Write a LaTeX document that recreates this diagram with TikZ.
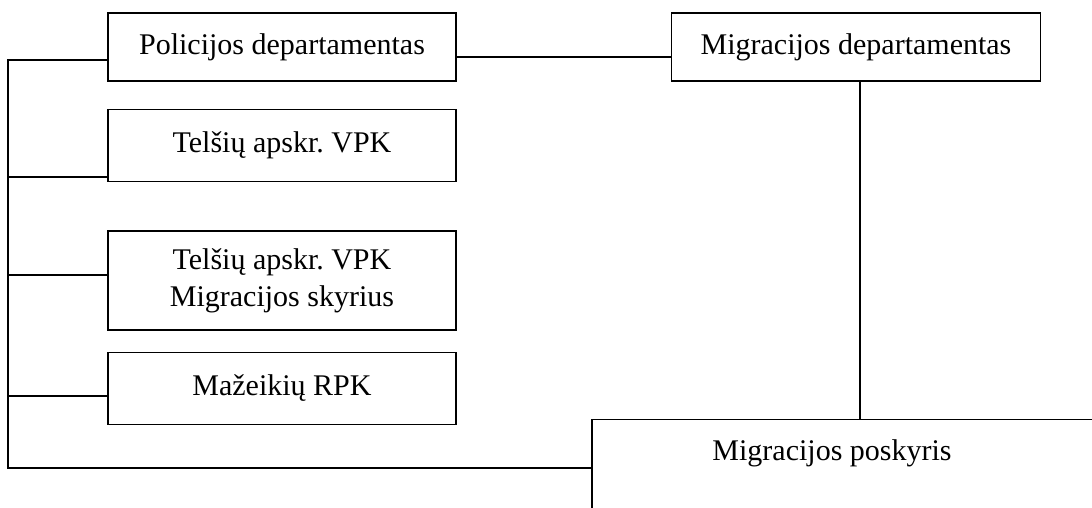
\documentclass[tikz,border=0pt]{standalone}
\usepackage{fontspec}
\setmainfont{Liberation Serif}
\frenchspacing
\usetikzlibrary{positioning}
\tikzset{
  unit/.style={draw, line width=1.5pt, align=center, font=\fontsize{30}{37}\selectfont},
  bus/.style={line width=1.5pt}
}
\begin{document}
\begin{tikzpicture}[x=1pt, y=1pt]
    \useasboundingbox (0,0) rectangle (1092,508);
    \clip (0,0) rectangle (1092,508);
    \node(pd)[unit, minimum width=348pt, minimum height=68pt] at (282,461){Policijos departamentas};
    \node(tv)[unit, minimum width=348pt, minimum height=72pt, below=27pt of pd]{Tel\v{s}i\k{u} apskr. VPK};
    \node(tm)[unit, minimum width=348pt, minimum height=99pt, below=48pt of tv]{Tel\v{s}i\k{u} apskr. VPK\\Migracijos skyrius};
    \node(mr)[unit, minimum width=348pt, minimum height=72pt, below=21pt of tm]{Ma\v{z}eiki\k{u} RPK};
    \node(md)[unit, minimum width=369pt, minimum height=68pt, right=214pt of pd]{Migracijos departamentas};
    \node(mp)[unit, minimum width=540pt, minimum height=130pt, anchor=north west] at (591,89){};
    \node(mplabel)[font=\fontsize{30}{37}\selectfont, anchor=base] at ([xshift=241pt, yshift=-42pt]mp.north west){Migracijos poskyris};
    \coordinate(bustop) at (8,448);
    \coordinate(busbot) at (8,40);
    \draw[bus](pd.west |- bustop) -- (bustop) -- (busbot) -- (mp.west |- busbot);
    \foreach \n/\y in {tv/331, tm/233, mr/112}{
        \coordinate(tap\n) at (8,\y);
        \draw[bus](\n.west |- tap\n) -- (tap\n);
    }
    \draw[bus]([yshift=-10pt]pd.east) -- ([yshift=-10pt]md.west);
    \draw[bus]([xshift=4pt]md.south) -- ([xshift=4pt]md.south |- mp.north);
\end{tikzpicture}
\end{document}
